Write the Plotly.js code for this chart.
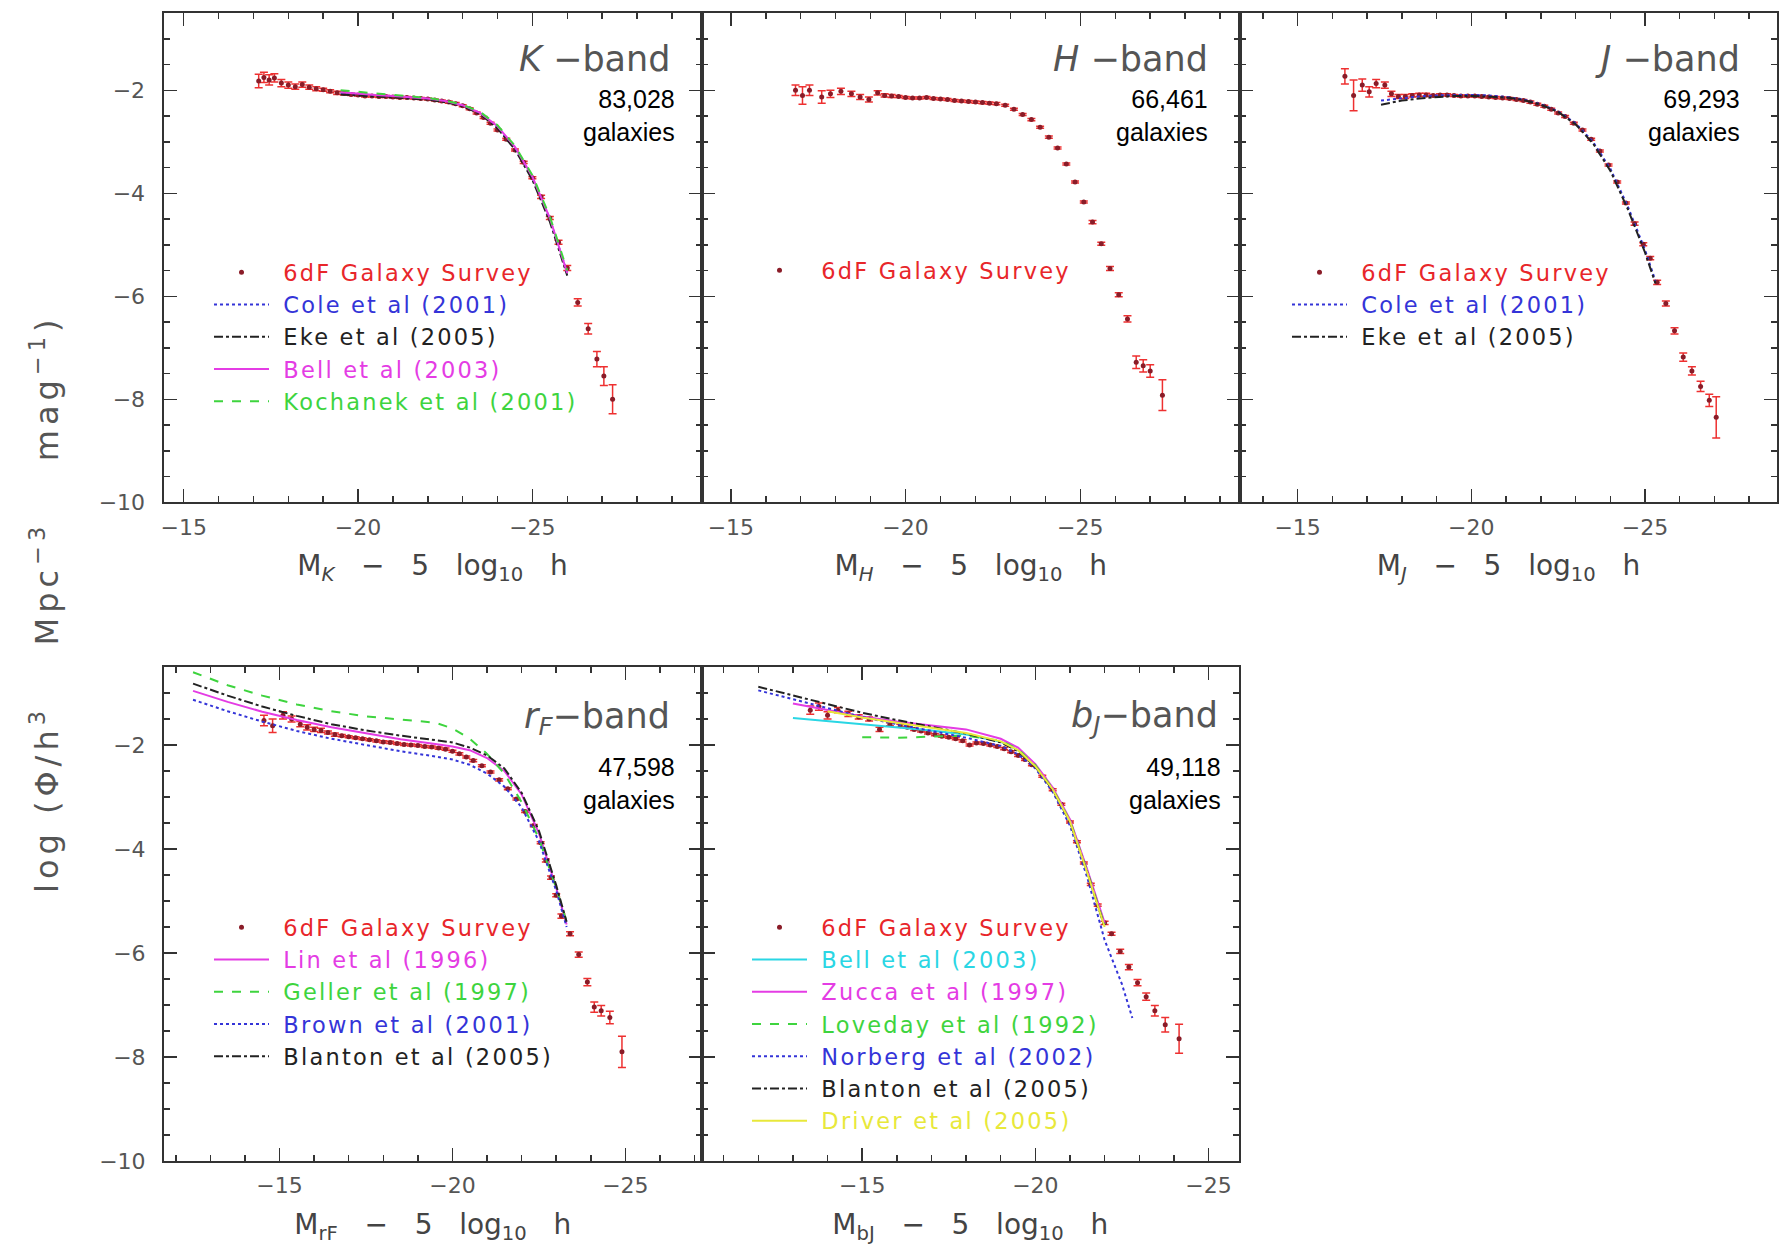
<!DOCTYPE html>
<html><head><meta charset="utf-8">
<script src="https://cdn.plot.ly/plotly-3.0.1.min.js"></script>
<style>html,body{margin:0;padding:0;background:#fff}#chart{width:1780px;height:1249px}</style>
</head><body><div id="chart"></div><script>
// ---------------- K band ----------------
const kMag = [-17.15,-17.3,-17.45,-17.6,-17.8,-18.0,-18.2,-18.4,-18.6,-18.8,-19.0,-19.2,-19.4,-19.6,-19.8,-20.0,-20.2,-20.4,-20.6,-20.8,-21.0,-21.2,-21.4,-21.6,-21.8,-22.0,-22.2,-22.4,-22.6,-22.8,-23.0,-23.2,-23.4,-23.6,-23.8,-24.0,-24.25,-24.5,-24.75,-25.0,-25.25,-25.5,-25.75,-26.0,-26.3,-26.6,-26.85,-27.05,-27.3];
const kPhi = [-1.82,-1.75,-1.80,-1.76,-1.86,-1.90,-1.93,-1.89,-1.94,-1.97,-1.99,-2.02,-2.05,-2.06,-2.08,-2.09,-2.11,-2.11,-2.12,-2.12,-2.13,-2.14,-2.14,-2.15,-2.16,-2.17,-2.19,-2.21,-2.23,-2.26,-2.30,-2.36,-2.44,-2.53,-2.64,-2.77,-2.95,-3.16,-3.40,-3.70,-4.07,-4.48,-4.95,-5.45,-6.12,-6.63,-7.22,-7.55,-8.00];
const kErr = [0.13,0.10,0.10,0.08,0.07,0.06,0.05,0.05,0.04,0.04,0.03,0.03,0.03,0.03,0.02,0.02,0.02,0.02,0.02,0.02,0.02,0.02,0.02,0.02,0.02,0.02,0.02,0.02,0.02,0.02,0.02,0.02,0.02,0.02,0.02,0.02,0.02,0.02,0.02,0.02,0.03,0.03,0.04,0.05,0.07,0.10,0.15,0.18,0.28];
const kFitMag = [-19.5,-20,-20.5,-21,-21.5,-22,-22.5,-23,-23.5,-24,-24.5,-25,-25.5,-26];
const kCole = [-2.05,-2.08,-2.10,-2.12,-2.14,-2.17,-2.22,-2.30,-2.45,-2.72,-3.12,-3.70,-4.50,-5.55];
const kEke = [-2.08,-2.10,-2.12,-2.13,-2.15,-2.18,-2.23,-2.31,-2.46,-2.74,-3.15,-3.74,-4.55,-5.60];
const kBell = [-2.04,-2.07,-2.09,-2.11,-2.13,-2.16,-2.21,-2.29,-2.44,-2.70,-3.10,-3.68,-4.48,-5.55];
const kKochanek = [-2.00,-2.03,-2.06,-2.09,-2.12,-2.15,-2.20,-2.28,-2.42,-2.68,-3.08,-3.65,-4.45,-5.50];

// ---------------- H band ----------------
const hMag = [-16.85,-17.05,-17.25,-17.6,-17.85,-18.15,-18.45,-18.7,-18.95,-19.2,-19.4,-19.6,-19.8,-20.0,-20.2,-20.4,-20.6,-20.8,-21.0,-21.2,-21.4,-21.6,-21.8,-22.0,-22.2,-22.4,-22.6,-22.85,-23.1,-23.35,-23.6,-23.85,-24.1,-24.35,-24.6,-24.85,-25.1,-25.35,-25.6,-25.85,-26.1,-26.35,-26.6,-26.8,-27.0,-27.35];
const hPhi = [-2.00,-2.10,-2.00,-2.13,-2.07,-2.02,-2.07,-2.13,-2.18,-2.05,-2.10,-2.11,-2.12,-2.14,-2.15,-2.15,-2.14,-2.16,-2.17,-2.18,-2.20,-2.21,-2.22,-2.23,-2.24,-2.25,-2.26,-2.29,-2.37,-2.47,-2.57,-2.72,-2.91,-3.12,-3.43,-3.78,-4.17,-4.56,-4.98,-5.46,-5.97,-6.44,-7.28,-7.35,-7.45,-7.92];
const hErr = [0.10,0.17,0.10,0.12,0.07,0.06,0.05,0.05,0.05,0.04,0.03,0.03,0.02,0.02,0.02,0.02,0.02,0.02,0.02,0.02,0.02,0.02,0.02,0.02,0.02,0.02,0.02,0.02,0.02,0.02,0.02,0.02,0.02,0.02,0.02,0.02,0.02,0.03,0.03,0.04,0.04,0.06,0.12,0.12,0.12,0.30];

// ---------------- J band ----------------
const jMag = [-16.36,-16.61,-16.86,-17.06,-17.26,-17.51,-17.7,-17.9,-18.1,-18.3,-18.5,-18.7,-18.9,-19.1,-19.3,-19.5,-19.7,-19.9,-20.1,-20.3,-20.5,-20.7,-20.9,-21.1,-21.3,-21.5,-21.7,-21.9,-22.1,-22.3,-22.5,-22.7,-22.95,-23.2,-23.45,-23.7,-23.95,-24.2,-24.45,-24.7,-24.95,-25.15,-25.35,-25.6,-25.85,-26.1,-26.35,-26.6,-26.85,-27.05];
const jPhi = [-1.73,-2.10,-1.90,-2.03,-1.87,-1.90,-2.07,-2.12,-2.12,-2.10,-2.09,-2.09,-2.10,-2.09,-2.09,-2.10,-2.11,-2.11,-2.11,-2.12,-2.13,-2.14,-2.15,-2.16,-2.18,-2.20,-2.23,-2.27,-2.31,-2.37,-2.44,-2.51,-2.64,-2.77,-2.95,-3.18,-3.45,-3.78,-4.19,-4.59,-4.99,-5.26,-5.73,-6.14,-6.67,-7.18,-7.45,-7.75,-8.02,-8.35];
const jErr = [0.15,0.30,0.12,0.10,0.08,0.06,0.05,0.04,0.04,0.03,0.03,0.03,0.02,0.02,0.02,0.02,0.02,0.02,0.02,0.02,0.02,0.02,0.02,0.02,0.02,0.02,0.02,0.02,0.02,0.02,0.02,0.02,0.02,0.02,0.02,0.02,0.02,0.02,0.02,0.03,0.03,0.03,0.04,0.05,0.06,0.08,0.08,0.10,0.12,0.40];
const jFitMag = [-17.4,-18,-18.5,-19,-19.5,-20,-20.5,-21,-21.5,-22,-22.5,-23,-23.5,-24,-24.5,-25,-25.3];
const jCole = [-2.20,-2.15,-2.12,-2.10,-2.09,-2.09,-2.10,-2.13,-2.18,-2.27,-2.41,-2.64,-3.00,-3.52,-4.25,-5.10,-5.70];
const jEke = [-2.28,-2.20,-2.16,-2.13,-2.11,-2.11,-2.12,-2.14,-2.19,-2.28,-2.42,-2.66,-3.03,-3.56,-4.30,-5.15,-5.75];

// ---------------- rF band ----------------
const rMag = [-14.55,-14.8,-15.1,-15.35,-15.6,-15.8,-16.0,-16.2,-16.4,-16.6,-16.8,-17.0,-17.2,-17.4,-17.6,-17.8,-18.0,-18.2,-18.4,-18.6,-18.8,-19.0,-19.2,-19.4,-19.6,-19.8,-20.0,-20.2,-20.4,-20.6,-20.85,-21.1,-21.35,-21.6,-21.85,-22.1,-22.35,-22.55,-22.7,-22.85,-23.0,-23.15,-23.4,-23.65,-23.9,-24.1,-24.3,-24.55,-24.9];
const rPhi = [-1.53,-1.63,-1.43,-1.50,-1.60,-1.66,-1.70,-1.72,-1.76,-1.80,-1.82,-1.84,-1.86,-1.88,-1.90,-1.92,-1.94,-1.95,-1.97,-1.99,-2.00,-2.01,-2.03,-2.04,-2.06,-2.08,-2.12,-2.17,-2.23,-2.30,-2.40,-2.52,-2.67,-2.84,-3.04,-3.28,-3.55,-3.88,-4.22,-4.55,-4.89,-5.29,-5.63,-6.03,-6.56,-7.04,-7.11,-7.24,-7.90];
const rErr = [0.10,0.13,0.07,0.06,0.05,0.05,0.04,0.04,0.03,0.03,0.02,0.02,0.02,0.02,0.02,0.02,0.02,0.02,0.02,0.02,0.02,0.02,0.02,0.02,0.02,0.02,0.02,0.02,0.02,0.02,0.02,0.02,0.02,0.02,0.02,0.02,0.02,0.02,0.03,0.03,0.03,0.04,0.04,0.05,0.07,0.10,0.10,0.12,0.30];
const rFitMag = [-12.5,-13.5,-14.5,-15.5,-16.5,-17.5,-18.5,-19.5,-20,-20.5,-21,-21.5,-22,-22.5,-23,-23.3];
const rLin = [-0.96,-1.17,-1.36,-1.52,-1.66,-1.78,-1.89,-1.98,-2.03,-2.10,-2.25,-2.50,-2.95,-3.70,-4.75,-5.45];
const rGeller = [-0.60,-0.85,-1.05,-1.22,-1.35,-1.45,-1.51,-1.57,-1.68,-1.88,-2.17,-2.55,-3.10,-3.80,-4.75,-5.40];
const rBrown = [-1.13,-1.35,-1.55,-1.73,-1.88,-2.00,-2.12,-2.22,-2.28,-2.38,-2.55,-2.80,-3.20,-3.85,-4.80,-5.50];
const rBlanton = [-0.82,-1.05,-1.26,-1.44,-1.60,-1.72,-1.82,-1.90,-1.95,-2.05,-2.20,-2.45,-2.92,-3.65,-4.70,-5.40];

// ---------------- bJ band ----------------
const bMag = [-13.5,-13.75,-14.0,-14.3,-14.6,-14.9,-15.2,-15.5,-15.8,-16.1,-16.3,-16.5,-16.7,-16.9,-17.1,-17.3,-17.5,-17.7,-17.9,-18.1,-18.3,-18.5,-18.7,-18.9,-19.1,-19.3,-19.5,-19.7,-19.9,-20.2,-20.5,-20.75,-21.0,-21.2,-21.4,-21.6,-21.8,-22.0,-22.2,-22.45,-22.7,-22.95,-23.2,-23.45,-23.75,-24.15];
const bPhi = [-1.33,-1.26,-1.43,-1.33,-1.40,-1.46,-1.50,-1.70,-1.60,-1.63,-1.66,-1.70,-1.73,-1.77,-1.80,-1.83,-1.85,-1.88,-1.92,-2.00,-1.96,-1.97,-2.00,-2.03,-2.07,-2.13,-2.20,-2.28,-2.38,-2.60,-2.86,-3.14,-3.48,-3.86,-4.27,-4.68,-5.08,-5.42,-5.63,-5.97,-6.27,-6.57,-6.84,-7.11,-7.38,-7.65];
const bErr = [0.08,0.07,0.07,0.05,0.05,0.04,0.04,0.04,0.03,0.03,0.02,0.02,0.02,0.02,0.02,0.02,0.02,0.02,0.02,0.02,0.02,0.02,0.02,0.02,0.02,0.02,0.02,0.02,0.02,0.02,0.02,0.02,0.02,0.02,0.02,0.02,0.02,0.03,0.03,0.04,0.05,0.06,0.07,0.10,0.14,0.28];
const bFitMag = [-12.0,-13.0,-14.0,-15.0,-16.0,-17.0,-18.0,-19.0,-19.5,-20.0,-20.5,-21.0,-21.5,-22.0,-22.5,-22.8];
const bBell = [null,-1.48,-1.54,-1.60,-1.66,-1.72,-1.80,-1.94,-2.10,-2.40,-2.84,-3.45,-4.42,-5.45,null,null];
const bZucca = [null,-1.20,-1.33,-1.45,-1.55,-1.63,-1.70,-1.88,-2.05,-2.37,-2.82,-3.43,-4.40,-5.42,null,null];
const bLoveday = [null,null,null,-1.85,-1.86,-1.84,-1.82,-1.92,-2.08,-2.39,-2.84,-3.46,-4.44,-5.47,null,null];
const bNorberg = [-0.95,-1.12,-1.30,-1.46,-1.60,-1.73,-1.86,-2.02,-2.18,-2.45,-2.90,-3.55,-4.55,-5.75,-6.60,-7.25];
const bBlanton = [-0.88,-1.05,-1.22,-1.38,-1.52,-1.65,-1.78,-1.95,-2.12,-2.42,-2.86,-3.48,-4.45,-5.50,null,null];
const bDriver = [null,null,-1.35,-1.47,-1.57,-1.67,-1.77,-1.93,-2.10,-2.41,-2.85,-3.47,-4.46,-5.50,null,null];

// ---------------- labels ----------------
const bandTitles = ['<i>K</i> −band', '<i>H</i> −band', '<i>J</i> −band', '<i>r</i><sub><i>F</i></sub>−band', '<i>b</i><sub><i>J</i></sub>−band'];
const galaxyCounts = ['83,028', '66,461', '69,293', '47,598', '49,118'];
const xSubs = ['<i>K</i>', '<i>H</i>', '<i>J</i>', 'rF', 'bJ'];
const yTickVals = [-2, -4, -6, -8, -10];

// ---------------- styling helpers ----------------
const W = 1780, H = 1249;
const PX = v => v / W, PY = v => 1 - v / H;
const C = {red:'#e8262a', blue:'#3434d8', black:'#222222', magenta:'#e43ce4', green:'#3ed43e', cyan:'#2ad6e4', yellow:'#e8e83a'};
const tickFont = {family:'DejaVu Sans', size:22, color:'#555'};
const sp3 = '\u00a0\u00a0\u00a0';
const sp4 = '\u00a0\u00a0\u00a0\u00a0';

function xAxis(range, d0, d1, anchor, sub) {
  return {domain:[PX(d0), PX(d1)], range:range, anchor:anchor, showgrid:false, zeroline:false,
    showline:true, linecolor:'#333', linewidth:2, mirror:'ticks', ticks:'inside', ticklen:13, tickwidth:1.5, tickcolor:'#333',
    tick0:0, dtick:5, minor:{ticks:'inside', ticklen:6, dtick:1, tickwidth:1.5, tickcolor:'#333'},
    tickfont:tickFont, ticklabelstandoff:4,
    title:{text:'M<sub>'+sub+'</sub>'+sp3+'−'+sp3+'5'+sp3+'log<sub>10</sub>'+sp3+'h', font:{family:'DejaVu Sans', size:28, color:'#444'}, standoff:17}};
}
function yAxis(d0, d1, anchor, labels) {
  return {domain:[PY(d1), PY(d0)], range:[-10, -0.5], anchor:anchor, showgrid:false, zeroline:false,
    showline:true, linecolor:'#333', linewidth:2, mirror:'ticks', ticks:'inside', ticklen:13, tickwidth:1.5, tickcolor:'#333',
    tickvals:yTickVals, minor:{ticks:'inside', ticklen:6, dtick:0.5, tickwidth:1.5, tickcolor:'#333'},
    showticklabels:labels, tickfont:tickFont, ticklabelstandoff:12};
}
function colorName(text, color) { return '<span style="color:' + color + ';letter-spacing:2.2px">\u00a0' + text + '</span>'; }
function dataTrace(mag, phi, err, xa, ya, lg) {
  return {type:'scatter', mode:'markers', x:mag, y:phi, xaxis:xa, yaxis:ya, legend:lg,
    name:colorName('6dF Galaxy Survey', C.red),
    marker:{size:5, color:'#8a1c28'},
    error_y:{type:'data', array:err, visible:true, color:'#ee3030', thickness:1.5, width:4}};
}
function lineTrace(mag, phi, label, color, dash, xa, ya, lg) {
  return {type:'scatter', mode:'lines', x:mag, y:phi, xaxis:xa, yaxis:ya, legend:lg,
    name:colorName(label, color), connectgaps:false, line:{color:color, width:2, dash:dash}};
}

const traces = [
  dataTrace(kMag, kPhi, kErr, 'x', 'y', 'legend'),
  lineTrace(kFitMag, kCole, 'Cole et al (2001)', C.blue, 'dot', 'x', 'y', 'legend'),
  lineTrace(kFitMag, kEke, 'Eke et al (2005)', C.black, 'dashdot', 'x', 'y', 'legend'),
  lineTrace(kFitMag, kBell, 'Bell et al (2003)', C.magenta, 'solid', 'x', 'y', 'legend'),
  lineTrace(kFitMag, kKochanek, 'Kochanek et al (2001)', C.green, 'dash', 'x', 'y', 'legend'),

  dataTrace(hMag, hPhi, hErr, 'x2', 'y2', 'legend2'),

  dataTrace(jMag, jPhi, jErr, 'x3', 'y3', 'legend3'),
  lineTrace(jFitMag, jCole, 'Cole et al (2001)', C.blue, 'dot', 'x3', 'y3', 'legend3'),
  lineTrace(jFitMag, jEke, 'Eke et al (2005)', C.black, 'dashdot', 'x3', 'y3', 'legend3'),

  dataTrace(rMag, rPhi, rErr, 'x4', 'y4', 'legend4'),
  lineTrace(rFitMag, rLin, 'Lin et al (1996)', C.magenta, 'solid', 'x4', 'y4', 'legend4'),
  lineTrace(rFitMag, rGeller, 'Geller et al (1997)', C.green, 'dash', 'x4', 'y4', 'legend4'),
  lineTrace(rFitMag, rBrown, 'Brown et al (2001)', C.blue, 'dot', 'x4', 'y4', 'legend4'),
  lineTrace(rFitMag, rBlanton, 'Blanton et al (2005)', C.black, 'dashdot', 'x4', 'y4', 'legend4'),

  dataTrace(bMag, bPhi, bErr, 'x5', 'y5', 'legend5'),
  lineTrace(bFitMag, bBell, 'Bell et al (2003)', C.cyan, 'solid', 'x5', 'y5', 'legend5'),
  lineTrace(bFitMag, bZucca, 'Zucca et al (1997)', C.magenta, 'solid', 'x5', 'y5', 'legend5'),
  lineTrace(bFitMag, bLoveday, 'Loveday et al (1992)', C.green, 'dash', 'x5', 'y5', 'legend5'),
  lineTrace(bFitMag, bNorberg, 'Norberg et al (2002)', C.blue, 'dot', 'x5', 'y5', 'legend5'),
  lineTrace(bFitMag, bBlanton, 'Blanton et al (2005)', C.black, 'dashdot', 'x5', 'y5', 'legend5'),
  lineTrace(bFitMag, bDriver, 'Driver et al (2005)', C.yellow, 'solid', 'x5', 'y5', 'legend5')
];

function legendAt(left, top) {
  return {x:PX(left), y:PY(top), xanchor:'left', yanchor:'top', bgcolor:'rgba(0,0,0,0)', borderwidth:0,
    font:{family:'DejaVu Sans', size:22.5, color:'#333'}, itemwidth:55, traceorder:'normal', itemclick:false};
}

// panel geometry (pixels)
const top0 = 13, top1 = 502.3, bot0 = 667, bot1 = 1161;
const colK = [163.5, 701.5], colH = [701.5, 1240], colJ = [1240, 1777];

const annotations = [];
const titlePos = [[672, 59], [1210, 59], [1742, 59], [672, 718], [1220, 717]];
const countPos = [[677, 116], [1210, 116], [1742, 116], [677, 783], [1223, 783]];
for (let i = 0; i < 5; i++) {
  annotations.push({xref:'paper', yref:'paper', x:PX(titlePos[i][0]), y:PY(titlePos[i][1]), xanchor:'right', yanchor:'middle',
    text:bandTitles[i], showarrow:false, font:{family:'DejaVu Sans', size:35, color:'#555'}});
  annotations.push({xref:'paper', yref:'paper', x:PX(countPos[i][0]), y:PY(countPos[i][1]), xanchor:'right', yanchor:'middle', align:'right',
    text:galaxyCounts[i] + '<br>galaxies', showarrow:false, font:{family:'Liberation Sans, Arial, sans-serif', size:25, color:'#000'}});
}
annotations.push({xref:'paper', yref:'paper', x:PX(45), y:PY(604), xanchor:'center', yanchor:'middle', textangle:-90, showarrow:false,
  text:'<span style="letter-spacing:5px">log\u00a0(Φ/h<sup>3</sup>' + sp4 + 'Mpc<sup>−3</sup>' + sp4 + 'mag<sup>−1</sup>)</span>',
  font:{family:'DejaVu Sans', size:32, color:'#555'}});

const layout = {
  width:W, height:H, margin:{l:0, r:0, t:0, b:0}, paper_bgcolor:'#fff', plot_bgcolor:'#fff', showlegend:true,
  xaxis: xAxis([-14.42, -29.85], colK[0], colK[1], 'y', xSubs[0]),
  xaxis2: xAxis([-14.16, -29.57], colH[0], colH[1], 'y2', xSubs[1]),
  xaxis3: xAxis([-13.34, -28.8], colJ[0], colJ[1], 'y3', xSubs[2]),
  xaxis4: xAxis([-11.66, -27.2], 164, 701.5, 'y4', xSubs[3]),
  xaxis5: xAxis([-10.36, -25.88], 701.5, 1239, 'y5', xSubs[4]),
  yaxis: yAxis(top0, top1, 'x', true),
  yaxis2: yAxis(top0, top1, 'x2', false),
  yaxis3: yAxis(top0, top1, 'x3', false),
  yaxis4: yAxis(bot0, bot1, 'x4', true),
  yaxis5: yAxis(bot0, bot1, 'x5', false),
  legend: legendAt(209, 251),
  legend2: legendAt(747, 249),
  legend3: legendAt(1287, 251),
  legend4: legendAt(209, 906),
  legend5: legendAt(747, 906),
  annotations: annotations
};

Plotly.newPlot('chart', traces, layout, {staticPlot:true, displayModeBar:false});
</script></body></html>
